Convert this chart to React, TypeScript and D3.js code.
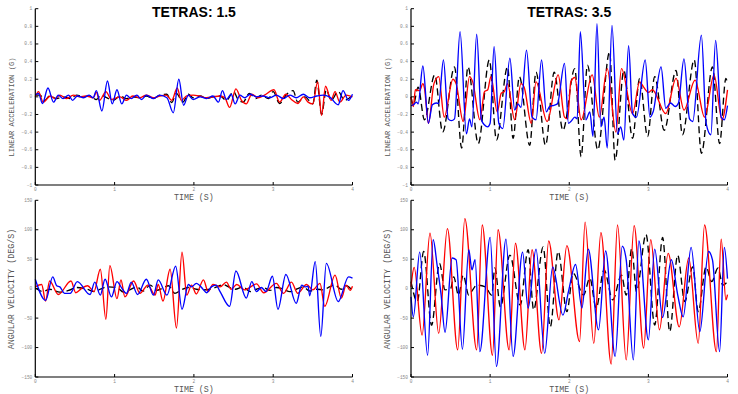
import * as d3 from "d3";

// [time (s), value] — peaks and troughs
const accLowBlue: [number, number][] = [
  [0, 0.02], [0.04, 0.04], [0.09, -0.075], [0.16, 0.1], [0.23, -0.06], [0.29, 0.02], [0.35, -0.02],
  [0.42, 0.02], [0.47, -0.04], [0.53, 0.01], [0.61, -0.01], [0.68, 0.02], [0.73, -0.01], [0.77, 0.07],
  [0.84, -0.16], [0.91, 0.18], [0.97, -0.08], [1.03, 0.08], [1.09, -0.08], [1.15, 0.02], [1.21, -0.02],
  [1.28, 0.02], [1.34, -0.03], [1.4, 0.02], [1.49, -0.02], [1.57, 0.02], [1.66, -0.01], [1.74, -0.18],
  [1.81, 0.2], [1.87, -0.095], [1.93, 0.02], [1.99, -0.03], [2.08, 0], [2.16, -0.02], [2.24, 0.01],
  [2.31, -0.06], [2.36, 0.07], [2.41, -0.03], [2.47, 0.03], [2.52, -0.08], [2.58, 0.02], [2.64, -0.01],
  [2.71, 0.03], [2.79, 0], [2.87, 0.01], [2.96, -0.01], [3.04, 0.02], [3.13, -0.02], [3.21, 0.02],
  [3.29, -0.01], [3.38, 0.03], [3.46, -0.01], [3.55, 0.01], [3.63, 0.02], [3.71, 0], [3.82, -0.09],
  [3.88, 0.07], [3.95, -0.04], [4, 0.03],
];
const accLowRed: [number, number][] = [
  [0, 0], [0.04, 0.06], [0.1, -0.06], [0.19, 0.01], [0.25, -0.02], [0.31, 0.02], [0.39, -0.02],
  [0.48, 0.02], [0.56, 0], [0.64, 0.01], [0.73, -0.01], [0.77, 0.05], [0.81, -0.04], [0.89, 0.06],
  [0.96, -0.03], [1.07, 0], [1.15, -0.04], [1.23, 0.01], [1.32, -0.01], [1.4, 0.02], [1.49, -0.01],
  [1.57, 0.01], [1.65, 0.02], [1.72, -0.04], [1.79, 0.1], [1.84, -0.04], [1.91, 0.01], [1.99, 0.02],
  [2.07, 0.01], [2.16, -0.01], [2.24, 0], [2.33, 0.01], [2.39, -0.01], [2.45, -0.12], [2.53, 0.09],
  [2.6, -0.04], [2.66, -0.08], [2.73, 0.03], [2.81, -0.01], [2.89, 0.02], [3.01, 0.08], [3.08, -0.06],
  [3.16, 0.03], [3.23, -0.03], [3.31, -0.075], [3.38, 0], [3.44, -0.06], [3.5, -0.08], [3.56, 0.17],
  [3.61, -0.21], [3.66, 0.12], [3.73, -0.04], [3.78, 0.06], [3.84, -0.06], [3.92, 0.02], [4, 0],
];
const accLowBlack: [number, number][] = [
  [0, 0.02], [0.06, 0.02], [0.12, -0.04], [0.18, 0.01], [0.27, -0.02], [0.35, 0], [0.44, -0.02],
  [0.52, 0.02], [0.61, 0], [0.69, 0.01], [0.77, -0.03], [0.83, 0.02], [0.9, -0.01], [0.98, -0.04],
  [1.07, 0.01], [1.15, -0.02], [1.23, 0], [1.32, -0.01], [1.4, 0.01], [1.49, -0.02], [1.57, 0.02],
  [1.66, 0.03], [1.72, -0.065], [1.78, 0.04], [1.86, -0.06], [1.93, 0.03], [1.99, -0.01], [2.08, 0.01],
  [2.16, -0.02], [2.24, 0], [2.33, 0.01], [2.41, -0.04], [2.5, 0.06], [2.55, -0.02], [2.62, -0.06],
  [2.7, 0.04], [2.78, -0.02], [2.85, 0.02], [2.94, -0.02], [3, 0.06], [3.08, -0.075], [3.17, 0.03],
  [3.25, 0.07], [3.31, -0.06], [3.4, 0], [3.5, -0.08], [3.55, 0.19], [3.61, -0.2], [3.67, 0.08],
  [3.73, -0.04], [3.82, 0.06], [3.9, -0.04], [4, 0.02],
];

const accHighBlue: [number, number][] = [
  [0, -0.1], [0.03, -0.09], [0.07, -0.06], [0.09, -0.08], [0.15, 0.35], [0.22, -0.3], [0.27, -0.09],
  [0.32, -0.07], [0.35, -0.075], [0.41, 0.42], [0.47, -0.25], [0.51, -0.27], [0.55, -0.25], [0.62, 0.74],
  [0.7, -0.42], [0.74, -0.25], [0.77, -0.34], [0.83, 0.71], [0.89, -0.26], [0.93, -0.32], [0.97, -0.34],
  [1.0, -0.3], [1.05, 0.57], [1.11, -0.3], [1.16, -0.36], [1.25, 0.44], [1.31, -0.15], [1.35, -0.08],
  [1.39, -0.12], [1.46, 0.53], [1.53, -0.23], [1.58, -0.26], [1.65, 0.42], [1.71, -0.17], [1.75, -0.11],
  [1.79, -0.1], [1.85, -0.08], [1.94, 0.38], [1.99, -0.3], [2.02, -0.28], [2.07, -0.23], [2.1, -0.25],
  [2.14, 0.74], [2.21, -0.26], [2.26, -0.17], [2.3, -0.45], [2.35, 0.83], [2.4, -0.34], [2.44, -0.23],
  [2.48, -0.58], [2.54, 0.81], [2.61, -0.42], [2.65, -0.34], [2.69, -0.49], [2.75, 0.58], [2.8, -0.19],
  [2.85, -0.23], [2.96, 0.42], [3.02, -0.23], [3.06, -0.17], [3.16, 0.34], [3.22, -0.13], [3.28, -0.07],
  [3.34, -0.11], [3.38, -0.07], [3.45, 0.43], [3.52, -0.25], [3.56, -0.28], [3.67, 0.7], [3.73, -0.3],
  [3.79, -0.43], [3.85, 0.64], [3.92, -0.23], [3.96, -0.26], [4, -0.1],
];
const accHighRed: [number, number][] = [
  [0, 0], [0.03, -0.11], [0.055, 0.08], [0.11, 0.07], [0.15, 0.15], [0.17, 0.1], [0.22, -0.3],
  [0.29, 0.15], [0.35, 0.23], [0.42, -0.23], [0.53, 0.2], [0.57, 0.15], [0.66, -0.28], [0.74, 0.23],
  [0.78, 0.17], [0.87, -0.26], [0.93, 0.06], [0.97, 0.08], [1.01, 0.23], [1.09, -0.17], [1.14, 0.04],
  [1.18, 0.06], [1.22, 0.15], [1.31, -0.26], [1.39, 0.15], [1.43, 0.11], [1.52, -0.3], [1.58, 0.17],
  [1.72, -0.28], [1.86, 0.25], [1.94, -0.23], [1.98, -0.25], [2.02, 0.17], [2.07, 0.22], [2.15, -0.26],
  [2.29, 0.25], [2.38, -0.23], [2.48, 0.32], [2.59, -0.4], [2.66, 0.32], [2.8, -0.19], [2.89, 0.17],
  [2.94, 0.11], [3.0, 0.05], [3.05, 0.08], [3.22, -0.19], [3.35, 0.21], [3.45, -0.15], [3.59, 0.19],
  [3.71, -0.23], [3.83, 0.25], [3.93, -0.26], [4, 0.08],
];
const accHighBlack: [number, number][] = [
  [0, 0], [0.03, -0.09], [0.09, 0.11], [0.17, -0.26], [0.3, 0.25], [0.4, -0.4], [0.55, 0.34],
  [0.64, -0.58], [0.72, 0.34], [0.85, -0.53], [0.99, 0.42], [1.08, -0.49], [1.22, 0.34], [1.29, -0.47],
  [1.37, 0.23], [1.5, -0.55], [1.58, 0.28], [1.7, -0.55], [1.81, 0.28], [1.92, -0.38], [2.07, 0.32],
  [2.15, -0.68], [2.23, 0.36], [2.36, -0.6], [2.51, 0.51], [2.58, -0.72], [2.69, 0.3], [2.8, -0.47],
  [2.89, 0.21], [2.99, -0.45], [3.08, 0.23], [3.2, -0.38], [3.35, 0.3], [3.43, -0.43], [3.58, 0.42],
  [3.67, -0.64], [3.81, 0.34], [3.9, -0.53], [3.98, 0.21], [4, 0.15],
];

const velLowBlue: [number, number][] = [
  [0, 16], [0.13, -20], [0.22, 20], [0.27, 5], [0.31, 3], [0.37, -8], [0.44, -8], [0.53, 12],
  [0.69, -10], [0.75, 11], [0.82, -11], [0.88, 16], [0.96, -14], [1.03, 12], [1.09, 1], [1.15, -8],
  [1.21, 11], [1.29, -10], [1.4, 16], [1.49, -11], [1.55, 15], [1.66, -11], [1.77, 38], [1.85, -35],
  [1.93, 7], [1.97, 3], [2.03, 9], [2.11, 0], [2.16, -7], [2.22, 3], [2.28, 6], [2.33, -5], [2.45, -30],
  [2.53, 30], [2.66, -16], [2.73, 12], [2.79, -5], [2.85, 2], [2.91, -5], [2.99, 21], [3.06, -35],
  [3.16, 24], [3.29, -25], [3.36, 6], [3.4, 3], [3.44, 4], [3.46, -12], [3.53, 46], [3.6, -81],
  [3.67, 43], [3.82, -22], [3.95, 20], [4, 18],
];
const velLowRed: [number, number][] = [
  [0, 3], [0.08, 7], [0.13, -21], [0.18, 13], [0.29, -10], [0.45, 13], [0.51, -7], [0.58, 0], [0.66, 5],
  [0.74, -5], [0.82, 33], [0.89, -52], [0.94, 39], [1.03, -17], [1.08, 15], [1.13, -14], [1.24, 13],
  [1.32, -8], [1.42, 6], [1.51, -11], [1.55, 7], [1.61, -21], [1.7, 33], [1.78, -67], [1.85, 62],
  [1.91, -11], [1.97, 6], [2.03, -9], [2.12, 15], [2.18, -5], [2.24, 7], [2.33, 3], [2.41, 11],
  [2.47, -1], [2.54, 7], [2.64, -2], [2.79, 8], [2.88, -7], [3.04, 9], [3.13, -8], [3.23, 11],
  [3.31, -8], [3.42, 7], [3.5, -2], [3.59, 9], [3.65, -30], [3.78, 23], [3.86, -16], [3.92, 6],
  [3.97, -3], [4, 4],
];
const velLowBlack: [number, number][] = [
  [0, 1], [0.1, -5], [0.18, -1], [0.31, -6], [0.42, -3], [0.52, 2], [0.65, -1], [0.75, -5], [0.82, -1],
  [0.9, 3], [1.03, 2], [1.11, -6], [1.19, -2], [1.28, 3], [1.36, -4], [1.45, 6], [1.53, -3], [1.61, 1],
  [1.68, 5], [1.76, -8], [1.84, -2], [1.93, 2], [2.03, -1], [2.12, -2], [2.2, -1], [2.29, 3], [2.37, 7],
  [2.45, 2], [2.52, -1], [2.62, 3], [2.71, -5], [2.79, -1], [2.87, 2], [2.96, -3], [3.04, 2],
  [3.13, -1], [3.21, -5], [3.29, -1], [3.38, 3], [3.46, -4], [3.55, -1], [3.63, -2], [3.71, 3],
  [3.78, 6], [3.86, -1], [3.92, 5], [4, -4],
];

const velHighBlue: [number, number][] = [
  [0, -14], [0.03, -48], [0.11, 62], [0.21, -113], [0.28, 83], [0.33, 40], [0.38, -10], [0.43, -74],
  [0.52, 52], [0.57, 49], [0.65, -103], [0.73, 66], [0.77, 32], [0.81, 49], [0.87, -107], [1.0, 87],
  [1.08, -132], [1.2, 84], [1.29, -115], [1.41, 62], [1.48, -33], [1.58, 67], [1.69, -110], [1.79, 37],
  [1.92, -45], [1.99, -5], [2.08, 41], [2.16, -33], [2.24, 67], [2.37, -70], [2.46, 64], [2.58, -115],
  [2.67, 72], [2.72, 49], [2.81, -121], [2.88, 81], [3.0, -87], [3.08, 67], [3.18, -49], [3.29, 49],
  [3.37, -10], [3.44, -48], [3.54, 70], [3.65, -73], [3.76, 63], [3.81, 49], [3.9, -107], [3.96, 70],
  [4, 17],
];
const velHighRed: [number, number][] = [
  [0, 3], [0.04, 36], [0.14, -79], [0.24, 94], [0.35, -76], [0.46, 102], [0.59, -104], [0.68, 119],
  [0.83, -104], [0.9, 108], [1.03, -113], [1.1, 100], [1.24, -104], [1.32, 77], [1.44, -104],
  [1.53, 66], [1.65, -110], [1.74, 81], [1.87, -53], [1.97, 73], [2.13, -90], [2.2, 113], [2.31, -93],
  [2.4, 95], [2.53, -128], [2.61, 108], [2.72, -121], [2.82, 107], [2.94, -101], [3.03, 83],
  [3.14, -70], [3.25, 60], [3.39, -65], [3.51, 52], [3.63, -93], [3.71, 108], [3.86, -107], [3.92, 84],
  [3.98, -19], [4, -10],
];
const velHighBlack: [number, number][] = [
  [0, 12], [0.08, -22], [0.16, 63], [0.26, -62], [0.36, 43], [0.43, -2], [0.5, 0], [0.54, 20],
  [0.6, -11], [0.66, 23], [0.73, -11], [0.78, -2], [0.83, 6], [0.94, 3], [1.02, -11], [1.06, 35],
  [1.13, -31], [1.25, 57], [1.38, -28], [1.48, 66], [1.55, -36], [1.67, 71], [1.76, -65], [1.86, 63],
  [1.97, -39], [2.05, 26], [2.18, -11], [2.26, 18], [2.34, -33], [2.44, 32], [2.55, -19], [2.66, 23],
  [2.72, -11], [2.79, 68], [2.85, -5], [2.97, 92], [3.08, -62], [3.18, 87], [3.27, -73], [3.37, 57],
  [3.46, -22], [3.56, 37], [3.63, -39], [3.73, 37], [3.8, 12], [3.88, 35], [3.94, 6], [4, 12],
];

const timeTicks = [0, 1, 2, 3, 4];
const accTicks = [1, 0.8, 0.6, 0.4, 0.2, 0, -0.2, -0.4, -0.6, -0.8, -1];
const velTicks = [150, 100, 50, 0, -50, -100, -150];
const titles = ["TETRAS: 1.5", "TETRAS: 3.5"];

const MONO = "'Liberation Mono', 'DejaVu Sans Mono', monospace";

interface PanelProps {
  left: number;
  right: number;
  top: number;
  bottom: number;
  domain: [number, number];
  ticks: number[];
  ylabel: string;
  ylabelSize: number;
  ylabelY: number;
  series: { data: [number, number][]; color: string; dash?: string }[];
}

function Panel({ left, right, top, bottom, domain, ticks, ylabel, ylabelSize, ylabelY, series }: PanelProps) {
  const x = d3.scaleLinear().domain([0, 4]).range([left, right]);
  const y = d3.scaleLinear().domain(domain).range([bottom, top]);
  const line = d3
    .line<[number, number]>()
    .x((d) => x(d[0]))
    .y((d) => y(d[1]))
    .curve(d3.curveMonotoneX);
  const fmt = (v: number) => String(v).replace("-", "\u2212");

  return (
    <g>
      {series.map((s, i) => (
        <path
          key={i}
          d={line(s.data) ?? ""}
          fill="none"
          stroke={s.color}
          strokeWidth={1.35}
          strokeDasharray={s.dash}
          strokeLinejoin="round"
        />
      ))}
      <line x1={left} x2={left} y1={top} y2={bottom} stroke="#000" strokeWidth={1.2} />
      <line x1={left} x2={right} y1={bottom} y2={bottom} stroke="#000" strokeWidth={1.2} />
      {ticks.map((t) => (
        <g key={t}>
          <line x1={left} x2={left + 3} y1={y(t)} y2={y(t)} stroke="#000" strokeWidth={1} />
          <text x={left - 3} y={y(t) + 1.5} fontSize={4.5} fill="#888" textAnchor="end" fontFamily={MONO}>
            {fmt(t)}
          </text>
        </g>
      ))}
      {timeTicks.map((t) => (
        <g key={t}>
          <line x1={x(t)} x2={x(t)} y1={bottom} y2={bottom - 3} stroke="#000" strokeWidth={1} />
          <text x={x(t)} y={bottom + 5.5} fontSize={4.5} fill="#888" textAnchor="middle" fontFamily={MONO}>
            {t}
          </text>
        </g>
      ))}
      <text
        x={(left + right) / 2}
        y={bottom + 14.5}
        fontSize={8.3}
        fill="#555"
        textAnchor="middle"
        fontFamily={MONO}
      >
        TIME (S)
      </text>
      <text
        transform={`translate(${left - 21},${ylabelY}) rotate(-90)`}
        fontSize={ylabelSize}
        fill="#555"
        textAnchor="middle"
        fontFamily={MONO}
      >
        {ylabel}
      </text>
    </g>
  );
}

export default function App() {
  const cols = [
    { left: 35.3, right: 352.5 },
    { left: 411, right: 727.5 },
  ];
  const accSets = [
    [accLowBlue, accLowRed, accLowBlack],
    [accHighBlue, accHighRed, accHighBlack],
  ];
  const velSets = [
    [velLowBlue, velLowRed, velLowBlack],
    [velHighBlue, velHighRed, velHighBlack],
  ];
  const mk = (set: [number, number][][]) => [
    { data: set[2], color: "#000", dash: "7,4" },
    { data: set[1], color: "#ff0000" },
    { data: set[0], color: "#0000ff" },
  ];

  return (
    <svg
      width={738}
      height={394}
      style={{ position: "absolute", left: 0, top: 0, background: "#fff" }}
      fontFamily="'Liberation Sans', Arial, sans-serif"
    >
      {cols.map((c, i) => (
        <g key={i}>
          <text
            x={(c.left + c.right) / 2}
            y={17}
            fontSize={14}
            fontWeight="bold"
            textAnchor="middle"
            fill="#000"
          >
            {titles[i]}
          </text>
          <Panel
            left={c.left}
            right={c.right}
            top={8.7}
            bottom={185}
            domain={[-1, 1]}
            ticks={accTicks}
            ylabel="LINEAR ACCELERATION (G)"
            ylabelSize={7.2}
            ylabelY={107}
            series={mk(accSets[i])}
          />
          <Panel
            left={c.left}
            right={c.right}
            top={200.3}
            bottom={377}
            domain={[-150, 150]}
            ticks={velTicks}
            ylabel="ANGULAR VELOCITY (DEG/S)"
            ylabelSize={8.4}
            ylabelY={289}
            series={mk(velSets[i])}
          />
        </g>
      ))}
    </svg>
  );
}
